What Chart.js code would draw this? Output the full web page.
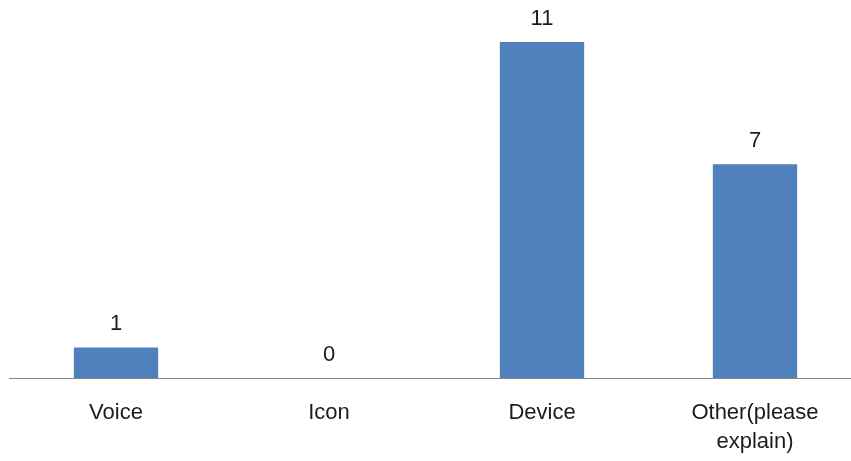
<!DOCTYPE html>
<html>
<head>
<meta charset="utf-8">
<script src="https://cdn.jsdelivr.net/npm/chart.js@4/dist/chart.umd.min.js"></script>
<style>
  html, body { margin: 0; padding: 0; background: #fff; overflow: hidden; }
  #wrap { position: relative; width: 871px; height: 461px; }
</style>
</head>
<body>
<div id="wrap"><canvas id="c" width="871" height="461"></canvas></div>
<script>
const categories = ['Voice', 'Icon', 'Device', ['Other(please', 'explain)']];
const counts = [1, 0, 11, 7];

const FONT = '"Liberation Sans", Arial, sans-serif';

// Writes each bar's value just above its top edge
const valueLabels = {
  id: 'valueLabels',
  afterDatasetsDraw(chart) {
    const ctx = chart.ctx;
    const meta = chart.getDatasetMeta(0);
    ctx.save();
    ctx.font = '22px ' + FONT;
    ctx.fillStyle = '#1c1c1c';
    ctx.textAlign = 'center';
    ctx.textBaseline = 'alphabetic';
    meta.data.forEach((bar, i) => {
      ctx.fillText(String(counts[i]), bar.x, bar.y - 17);
    });
    ctx.restore();
  }
};

new Chart(document.getElementById('c'), {
  type: 'bar',
  data: {
    labels: categories,
    datasets: [{
      data: counts,
      backgroundColor: '#4F81BD',
      borderWidth: 0,
      categoryPercentage: 0.4,
      barPercentage: 0.99
    }]
  },
  options: {
    responsive: false,
    animation: false,
    layout: { padding: { left: 9.5, right: 9.5, top: 11.5, bottom: 0 } },
    plugins: { legend: { display: false }, tooltip: { enabled: false } },
    scales: {
      y: { display: false, min: 0, max: 12 },
      x: {
        grid: { display: false, drawTicks: false },
        border: { display: true, color: '#868686', width: 1 },
        ticks: {
          color: '#1c1c1c',
          font: { family: FONT, size: 22, lineHeight: 1.3 },
          padding: 21,
          maxRotation: 0,
          autoSkip: false
        },
        afterFit(scale) { scale.height = 83; }
      }
    }
  },
  plugins: [valueLabels]
});
</script>
</body>
</html>
